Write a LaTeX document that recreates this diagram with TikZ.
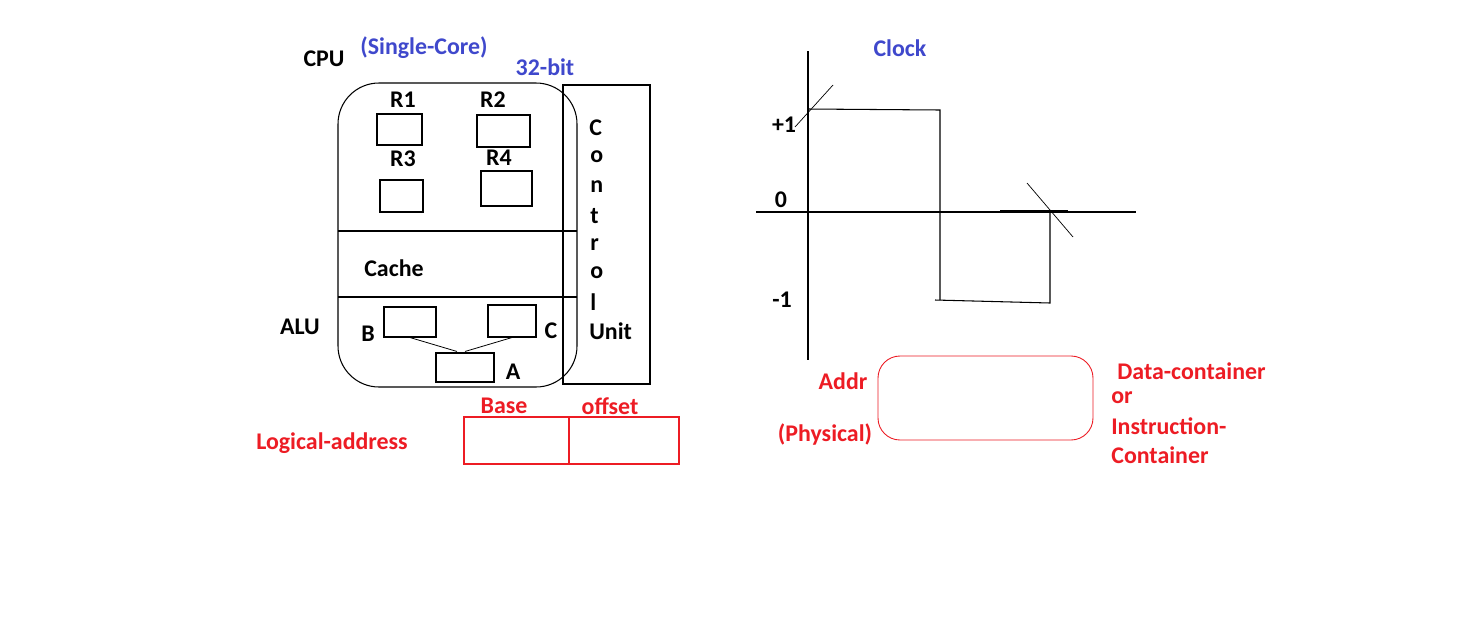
\documentclass[tikz,border=0pt]{standalone}
\usepackage{fontspec}
\setmainfont{Carlito}
\usetikzlibrary{calc}
\definecolor{pblue}{RGB}{63,72,204}
\definecolor{pred}{RGB}{237,28,36}
\newdimen\px \px=0.02cm
\begin{document}
\begin{tikzpicture}[x=0.02cm,y=-0.02cm,
  lbl/.style={font=\bfseries\fontsize{13.6}{16}\selectfont, inner sep=0pt},
  blbl/.style={lbl, text=pblue},
  rlbl/.style={lbl, text=pred},
  box/.style={draw, line width=0.6pt, inner sep=0pt},
  rbox/.style={draw=pred, line width=0.6pt, inner sep=0pt},
  ln/.style={line width=0.6pt}]
\useasboundingbox (0,0) rectangle (1481,623);
\fill[white] (0,0) rectangle (1481,623);

% CPU
\node[box, rounded corners=41\px, minimum width=239\px, minimum height=304\px] (cpu) at (457.5,235) {};
\node[box, minimum width=87\px, minimum height=299\px] (cu) at (606.5,234.5) {};
\draw[ln] (338,231) -- (577,231);
\draw[ln] (338,297) -- (577,297);

\node[lbl] (cpul) at (324,59) {CPU};
\node[blbl] (single) at (424,48) {(Single-Core)};
\node[blbl] (bits) at (545,67) {32-bit};

% registers
\node[box, minimum width=45\px, minimum height=31\px] (r1) at (399.5,129.5) {};
\node[box, minimum width=53\px, minimum height=32\px] (r2) at (503.5,131) {};
\node[box, minimum width=43\px, minimum height=32\px] (r3) at (401.5,196) {};
\node[box, minimum width=51\px, minimum height=35\px] (r4) at (506.5,188.5) {};
\node[lbl] (r1l) at (403,100) {R1};
\node[lbl] (r2l) at (493,100) {R2};
\node[lbl] (r3l) at (403,159) {R3};
\node[lbl] (r4l) at (499,158) {R4};

\node[lbl] (cache) at (394,268) {Cache};

% ALU
\node[lbl] (alu) at (300,327) {ALU};
\node[box, minimum width=52\px, minimum height=30\px] (b) at (410,322) {};
\node[box, minimum width=48\px, minimum height=32\px] (c) at (512,321) {};
\node[box, minimum width=58\px, minimum height=29\px] (a) at (465,367.5) {};
\node[lbl] (bl) at (368,334) {B};
\node[lbl] (cl) at (551,331) {C};
\node[lbl] (al) at (513,372) {A};
\draw[line width=0.45pt] (b.south) -- ($(a.north)+(-8,-1)$);
\draw[line width=0.45pt] (c.south) -- ($(a.north)+(0,-1)$);

% control unit letters
\node[lbl, anchor=west] (cu1) at (589,128) {C};
\node[lbl, anchor=west] (cu2) at (590,157) {o};
\node[lbl, anchor=west] (cu3) at (590,187) {n};
\node[lbl, anchor=west] (cu4) at (590,216) {t};
\node[lbl, anchor=west] (cu5) at (590,245) {r};
\node[lbl, anchor=west] (cu6) at (590,273) {o};
\node[lbl, anchor=west] (cu7) at (590,302) {l};
\node[lbl, anchor=west] (cu8) at (589,331) {Unit};

% logical address
\node[rbox, minimum width=105\px, minimum height=47\px] (base) at (516.5,440.5) {};
\node[rbox, minimum width=110\px, minimum height=47\px] (offset) at (624,440.5) {};
\node[rlbl] (basel) at (504,406) {Base};
\node[rlbl] (offl) at (610,406) {offset};
\node[rlbl] (logl) at (332,443) {Logical-address};

% clock
\node[blbl] (clock) at (900,48) {Clock};
\coordinate (yt) at (808,51);
\coordinate (yb) at (808,360);
\coordinate (xl) at (756,212);
\coordinate (xr) at (1136,212);
\draw[ln] (yt) -- (yb);
\draw[ln] (xl) -- (xr);
\draw[ln] (808,109) -- (940,110) -- (940,300);
\draw[ln] (935,300) -- (1050,303) -- (1050,213);
\draw[ln] (1000,211) -- (1068,211);
\draw[line width=0.4pt] (795,127) -- (833,85);
\draw[line width=0.4pt] (1027,183) -- (1073,237);
\node[lbl] (p1) at (784,125) {+1};
\node[lbl] (z0) at (781,200) {0};
\node[lbl] (m1) at (782,300) {-1};

% memory
\node[rbox, line width=0.5pt, rounded corners=22\px, minimum width=215\px, minimum height=84\px] (mem) at (985.5,398) {};
\node[rlbl] (addr) at (843,381) {Addr};
\node[rlbl] (phys) at (825,435) {(Physical)};
\node[rlbl, anchor=west] (dc) at (1117,371) {Data-container};
\node[rlbl, anchor=west] (or) at (1111,398) {or};
\node[rlbl, anchor=west] (ic) at (1111,426) {Instruction-};
\node[rlbl, anchor=west] (cont) at (1111,455) {Container};
\end{tikzpicture}
\end{document}
